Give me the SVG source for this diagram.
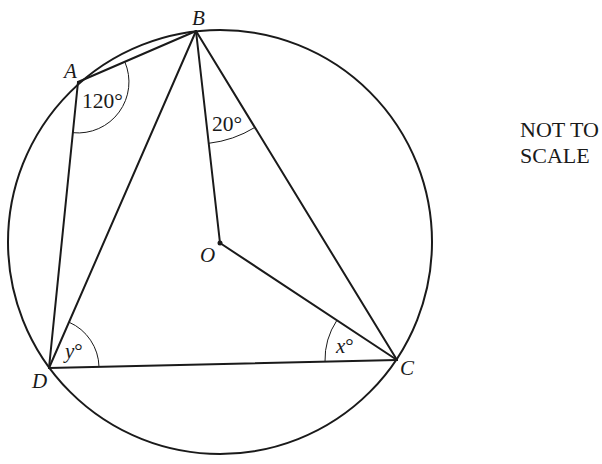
<svg xmlns="http://www.w3.org/2000/svg" width="602" height="464" viewBox="0 0 602 464">
<style>
.ln{stroke:#1a1a1a;stroke-width:2;fill:none;stroke-linecap:round}
.arc{stroke:#1a1a1a;stroke-width:1;fill:none}
.lbl{font-family:"Liberation Serif","Times New Roman",serif;font-style:italic;font-size:21px;fill:#1a1a1a}
.ang{font-family:"Liberation Serif","Times New Roman",serif;font-size:21.5px;fill:#1a1a1a}
.nt{font-family:"Liberation Serif","Times New Roman",serif;font-size:22px;fill:#1a1a1a}
</style>
<rect width="602" height="464" fill="#ffffff"/>
<g id="circle"><circle cx="220" cy="242" r="212" class="ln"/></g>
<g id="connectors">
<line x1="78" y1="82" x2="196" y2="31" class="ln"/>
<line x1="78" y1="82" x2="49" y2="368" class="ln"/>
<line x1="196" y1="31" x2="49" y2="368" class="ln"/>
<line x1="196" y1="31" x2="397" y2="360" class="ln"/>
<line x1="196" y1="31" x2="220" y2="243" class="ln"/>
<line x1="220" y1="243" x2="397" y2="360" class="ln"/>
<line x1="49" y1="368" x2="397" y2="360" class="ln"/>
</g>
<g id="angles">
<path class="arc" d="M124.8 61.8 A51 51 0 0 1 72.9 132.7"/>
<path class="arc" d="M254.9 127.4 A113 113 0 0 1 208.7 143.3"/>
<path class="arc" d="M69 322.2 A50 50 0 0 1 99 366.9"/>
<path class="arc" d="M325 361.7 A72 72 0 0 1 336.9 320.3"/>
</g>
<g id="node-A"><text class="lbl" x="64" y="78">A</text><text class="ang" x="82" y="108">120°</text></g>
<g id="node-B"><text class="lbl" x="192" y="25">B</text><text class="ang" x="212" y="131">20°</text></g>
<g id="node-O"><circle cx="220" cy="243" r="2.5" fill="#1a1a1a"/><text class="lbl" x="200" y="262">O</text></g>
<g id="node-D"><text class="lbl" x="32" y="388">D</text><text class="lbl" x="65" y="358">y<tspan style="font-style:normal">°</tspan></text></g>
<g id="node-C"><text class="lbl" x="400" y="375">C</text><text class="lbl" x="336" y="353">x<tspan style="font-style:normal">°</tspan></text></g>
<g id="note"><text class="nt" x="520" y="137">NOT TO</text><text class="nt" x="520" y="163">SCALE</text></g>
</svg>
